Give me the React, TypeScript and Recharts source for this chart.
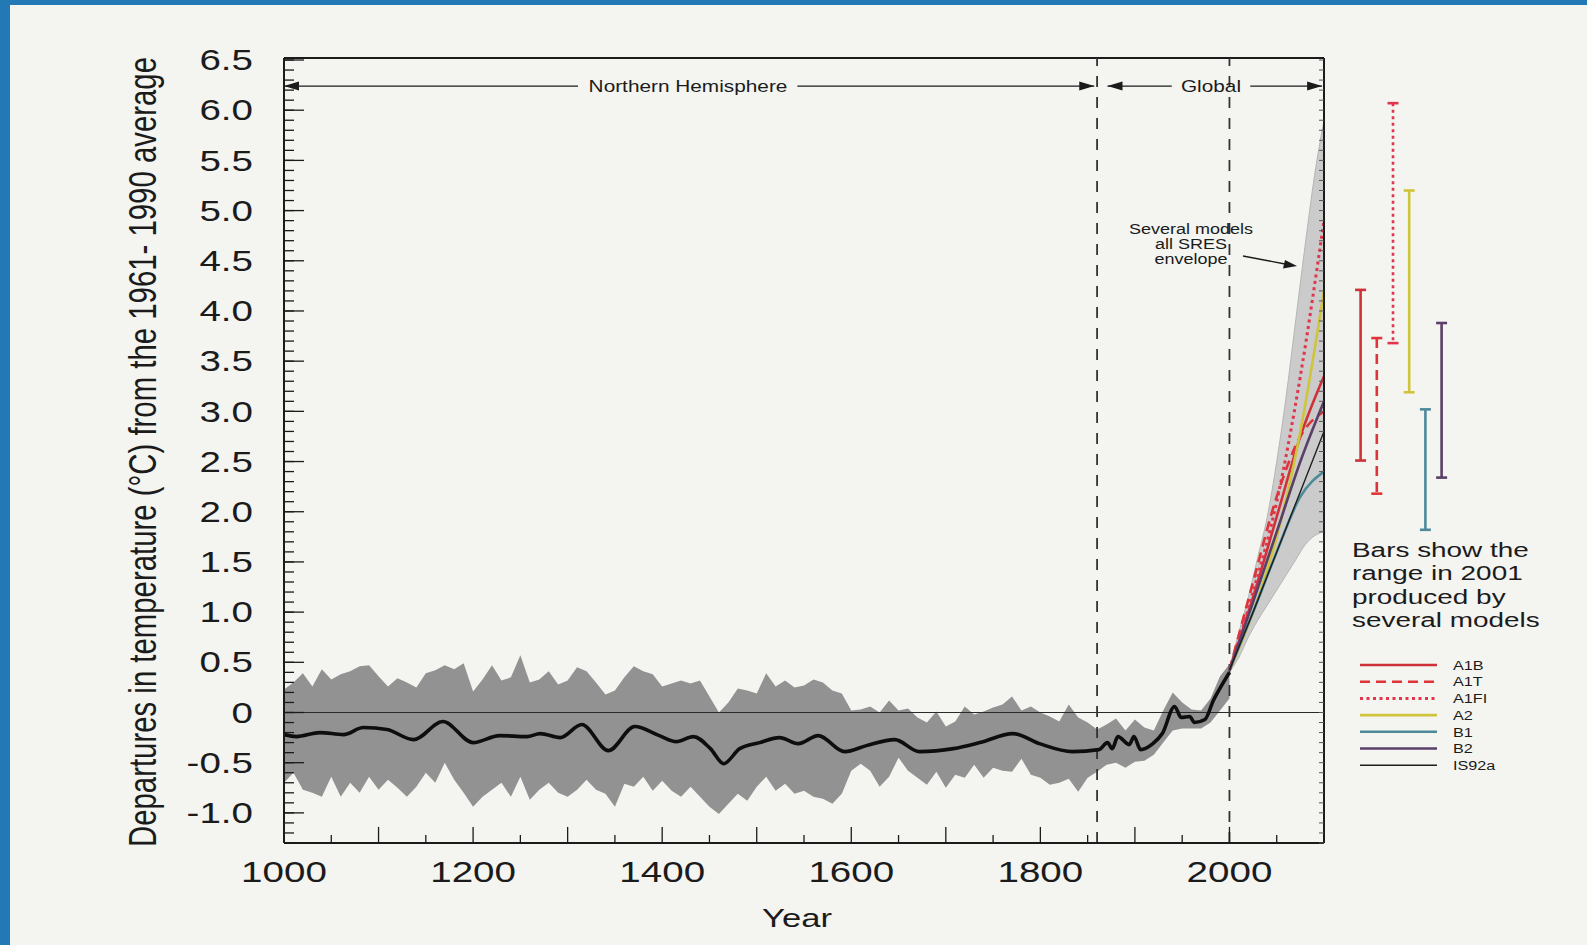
import React from 'react';
import {
  ComposedChart, BarChart, Bar, Area, Line, XAxis, YAxis, ReferenceLine,
} from 'recharts';

const FONT = '"Liberation Sans", Arial, Helvetica, sans-serif';
const INK = '#1b1b1b';
// the scanned figure is stretched sideways, so text is drawn wider than tall
const SX = 1.33;

// Northern Hemisphere reconstruction, smoothed (black line)
const NH_YEARS = [1000, 1013, 1038, 1063, 1084, 1109, 1137, 1168, 1200, 1228, 1257, 1271, 1292, 1315, 1343, 1371, 1397, 1415, 1433, 1451, 1465, 1482, 1503, 1524, 1544, 1565, 1593, 1616, 1646, 1672, 1708, 1736, 1771, 1799, 1834, 1862, 1871, 1876, 1882, 1894, 1899, 1906, 1919, 1929, 1942, 1949, 1958, 1963, 1974, 1983, 1993, 2000];
const NH_TEMPS = [-0.22, -0.24, -0.2, -0.22, -0.15, -0.17, -0.27, -0.09, -0.3, -0.23, -0.24, -0.21, -0.25, -0.12, -0.38, -0.14, -0.23, -0.29, -0.24, -0.36, -0.51, -0.36, -0.3, -0.25, -0.31, -0.23, -0.39, -0.33, -0.27, -0.39, -0.36, -0.3, -0.21, -0.31, -0.39, -0.37, -0.3, -0.36, -0.24, -0.32, -0.24, -0.37, -0.31, -0.21, 0.06, -0.05, -0.04, -0.1, -0.07, 0.12, 0.29, 0.4];

// annual spread (grey band), upper and lower edge per decade
const BAND_YEARS = [1000, 1010, 1020, 1030, 1040, 1050, 1060, 1070, 1080, 1090, 1100, 1110, 1120, 1130, 1140, 1150, 1160, 1170, 1180, 1190, 1200, 1210, 1220, 1230, 1240, 1250, 1260, 1270, 1280, 1290, 1300, 1310, 1320, 1330, 1340, 1350, 1360, 1370, 1380, 1390, 1400, 1410, 1420, 1430, 1440, 1450, 1460, 1470, 1480, 1490, 1500, 1510, 1520, 1530, 1540, 1550, 1560, 1570, 1580, 1590, 1600, 1610, 1620, 1630, 1640, 1650, 1660, 1670, 1680, 1690, 1700, 1710, 1720, 1730, 1740, 1750, 1760, 1770, 1780, 1790, 1800, 1810, 1820, 1830, 1840, 1850, 1860, 1870, 1880, 1890, 1900, 1910, 1920, 1930, 1940, 1950, 1960, 1970, 1980, 1990, 2000];
const BAND_HIGH = [0.23, 0.3, 0.39, 0.26, 0.43, 0.33, 0.38, 0.41, 0.46, 0.47, 0.36, 0.26, 0.34, 0.3, 0.25, 0.39, 0.42, 0.47, 0.43, 0.49, 0.21, 0.33, 0.47, 0.32, 0.35, 0.57, 0.3, 0.33, 0.41, 0.28, 0.32, 0.45, 0.41, 0.3, 0.18, 0.22, 0.35, 0.46, 0.41, 0.38, 0.26, 0.29, 0.32, 0.29, 0.32, 0.16, 0.0, 0.1, 0.24, 0.22, 0.19, 0.39, 0.26, 0.32, 0.25, 0.27, 0.33, 0.3, 0.22, 0.19, 0.02, 0.03, 0.06, 0.0, 0.12, 0.02, 0.04, -0.05, -0.1, 0.01, -0.14, -0.09, 0.06, -0.02, 0.01, 0.05, 0.08, 0.16, 0.02, 0.06, 0.0, -0.04, -0.09, 0.08, -0.05, -0.1, -0.17, -0.12, -0.06, -0.18, -0.07, -0.15, -0.18, 0.02, 0.2, 0.1, 0.03, 0.02, 0.14, 0.36, 0.48];
const BAND_LOW = [-0.7, -0.6, -0.77, -0.8, -0.84, -0.64, -0.84, -0.7, -0.8, -0.64, -0.77, -0.67, -0.75, -0.84, -0.74, -0.6, -0.7, -0.5, -0.67, -0.8, -0.94, -0.84, -0.77, -0.7, -0.84, -0.64, -0.87, -0.77, -0.7, -0.8, -0.84, -0.77, -0.67, -0.77, -0.81, -0.94, -0.71, -0.74, -0.64, -0.78, -0.68, -0.78, -0.84, -0.74, -0.84, -0.94, -1.01, -0.91, -0.81, -0.88, -0.74, -0.64, -0.78, -0.71, -0.81, -0.78, -0.84, -0.86, -0.91, -0.81, -0.58, -0.51, -0.58, -0.74, -0.64, -0.45, -0.58, -0.65, -0.72, -0.59, -0.75, -0.62, -0.65, -0.52, -0.65, -0.55, -0.58, -0.59, -0.46, -0.62, -0.65, -0.72, -0.7, -0.66, -0.79, -0.65, -0.59, -0.52, -0.5, -0.55, -0.49, -0.48, -0.42, -0.3, -0.18, -0.16, -0.16, -0.16, -0.1, 0.02, 0.14];

// envelope of all SRES projections
const ENV_YEARS = [2000, 2010, 2020, 2030, 2040, 2050, 2060, 2070, 2080, 2090, 2100];
const ENV_HIGH = [0.45, 0.8, 1.15, 1.55, 1.95, 2.5, 3.15, 3.9, 4.65, 5.35, 5.9];
const ENV_LOW = [0.4, 0.55, 0.75, 0.92, 1.07, 1.22, 1.37, 1.52, 1.67, 1.76, 1.8];

// scenario runs
const SCEN_YEARS = [2000, 2025, 2050, 2075, 2100];
const A1B = [0.42, 1.15, 1.95, 2.75, 3.35];
const A1T = [0.42, 1.3, 2.15, 2.75, 3.0];
const A1FI = [0.42, 1.2, 2.1, 3.35, 4.9];
const A2 = [0.42, 1.0, 1.75, 2.8, 4.2];
const B1 = [0.42, 1.0, 1.6, 2.15, 2.4];
const B2 = [0.42, 1.1, 1.8, 2.5, 3.1];
const IS92A = [0.42, 1.0, 1.6, 2.2, 2.8];
const SCENARIOS = ['A1B', 'A1T', 'A1FI', 'A2', 'B1', 'B2', 'IS92a'];
const SCEN_SERIES = [A1B, A1T, A1FI, A2, B1, B2, IS92A];

// range bars at the right
const BAR_NAMES = ['A1B', 'A1T', 'A1FI', 'A2', 'B1', 'B2'];
const BAR_LOW = [2.51, 2.18, 3.68, 3.19, 1.82, 2.34];
const BAR_HIGH = [4.21, 3.73, 6.07, 5.2, 3.02, 3.88];

const YEAR_LABELS = [1000, 1200, 1400, 1600, 1800, 2000];
const YEAR_MAJOR = [1100, 1200, 1300, 1400, 1500, 1600, 1700, 1800, 1900, 2000];
const YEAR_MINOR = [1050, 1150, 1250, 1350, 1450, 1550, 1650, 1750, 1850, 1950, 2050];
const TEMP_LABELS = [-1, -0.5, 0, 0.5, 1, 1.5, 2, 2.5, 3, 3.5, 4, 4.5, 5, 5.5, 6, 6.5];
const TEMP_MINOR = Array.from({ length: 79 }, (_, i) => Math.round((-1.3 + i * 0.1) * 10) / 10);

const STYLE: Record<string, { stroke: string; dash?: string; width: number }> = {
  A1B: { stroke: '#cf3139', width: 2.6 },
  A1T: { stroke: '#de3438', dash: '10 6', width: 2.6 },
  A1FI: { stroke: '#e0354a', dash: '3 3.5', width: 3 },
  A2: { stroke: '#cfc43c', width: 2.6 },
  B1: { stroke: '#4d8b9b', width: 2.6 },
  B2: { stroke: '#5a4068', width: 2.6 },
  IS92a: { stroke: '#1e1e1e', width: 1.4 },
};

const nhData = NH_YEARS.map((year, i) => ({ year, t: NH_TEMPS[i] }));
const bandData = BAND_YEARS.map((year, i) => ({ year, range: [BAND_LOW[i], BAND_HIGH[i]] }));
const envData = ENV_YEARS.map((year, i) => ({ year, range: [ENV_LOW[i], ENV_HIGH[i]] }));
const scenData = SCEN_YEARS.map((year, i) => {
  const row: Record<string, number> = { year };
  SCENARIOS.forEach((s, k) => { row[s] = SCEN_SERIES[k][i]; });
  return row;
});
const barData = BAR_NAMES.map((name, i) => ({ name, range: [BAR_LOW[i], BAR_HIGH[i]] }));

const X_DOMAIN: [number, number] = [1000, 2100];
const Y_DOMAIN: [number, number] = [-1.3, 6.52];
const ARROW_Y = 6.24;

const Wide = ({ x, y, size, anchor = 'start', dy = '0.35em', sx = SX, children }: any) => (
  <g transform={`translate(${x},${y}) scale(${sx},1)`}>
    <text x={0} y={0} dy={dy} textAnchor={anchor} fontSize={size} fontFamily={FONT} fill={INK}>
      {children}
    </text>
  </g>
);

const TempTick = (p: any) => {
  const v = p.payload.value;
  return <Wide x={p.x} y={p.y} size={29} anchor="end">{v === 0 ? '0' : v.toFixed(1)}</Wide>;
};

const YearTick = (p: any) => (
  <Wide x={p.x} y={p.y} size={29} anchor="middle" dy="0.71em">{p.payload.value}</Wide>
);

// tick marks only, no label
const NoLabel = () => <g />;

const head = (x: number, y: number, dir: number) => (
  <polygon points={`${x},${y} ${x - dir * 15},${y - 4.5} ${x - dir * 15},${y + 4.5}`} fill={INK} />
);

const arrowLine = (atStart: boolean, atEnd: boolean) => (p: any) => (
  <g>
    <line x1={p.x1} y1={p.y1} x2={p.x2} y2={p.y2} stroke={INK} strokeWidth={1.4} />
    {atStart && head(p.x1, p.y1, -1)}
    {atEnd && head(p.x2, p.y2, 1)}
  </g>
);

const RangeBar = (p: any) => {
  const st = STYLE[p.payload.name];
  const cx = p.x + p.width / 2;
  const top = Math.min(p.y, p.y + p.height);
  const bot = Math.max(p.y, p.y + p.height);
  return (
    <g stroke={st.stroke} strokeWidth={2.6}>
      <line x1={cx} x2={cx} y1={top} y2={bot} strokeDasharray={st.dash} />
      <line x1={cx - 5.5} x2={cx + 5.5} y1={top} y2={top} />
      <line x1={cx - 5.5} x2={cx + 5.5} y1={bot} y2={bot} />
    </g>
  );
};

const axisStroke = { stroke: INK, strokeWidth: 2 };
const tickStroke = { stroke: INK, strokeWidth: 1.3 };

export default function App() {
  const ax = { xAxisId: 'yr', yAxisId: 't' };
  const yBase = Y_DOMAIN[0];
  return (
    <div style={{ position: 'absolute', left: 0, top: 0, width: 1587, height: 945, background: '#2379b5', overflow: 'hidden' }}>
      <div style={{ position: 'absolute', left: 10, top: 5, width: 1577, height: 940, background: '#f4f4f1' }} />

      <div style={{ position: 'absolute', left: 0, top: 0 }}>
        <ComposedChart width={1587} height={945} margin={{ top: 58, right: 263, bottom: 42, left: 204 }}>
          <XAxis xAxisId="yr" type="number" dataKey="year" domain={X_DOMAIN} allowDataOverflow
            ticks={YEAR_LABELS} tickLine={false} tickSize={0} tickMargin={18} height={60}
            axisLine={axisStroke} tick={(p: any) => <YearTick {...p} />} />
          <YAxis yAxisId="t" domain={Y_DOMAIN} allowDataOverflow ticks={TEMP_LABELS} width={80}
            tickLine={false} tickSize={0} tickMargin={31} axisLine={axisStroke} interval={0}
            tick={(p: any) => <TempTick {...p} />} />
          <YAxis yAxisId="maj" domain={Y_DOMAIN} allowDataOverflow ticks={TEMP_LABELS} interval={0}
            mirror width={1} tick={NoLabel} tickSize={20} tickLine={tickStroke} axisLine={false} />
          <YAxis yAxisId="min" domain={Y_DOMAIN} allowDataOverflow ticks={TEMP_MINOR} interval={0}
            mirror width={1} tick={NoLabel} tickSize={9} tickLine={tickStroke} axisLine={false} />
          <YAxis yAxisId="r" orientation="right" domain={Y_DOMAIN} allowDataOverflow ticks={TEMP_MINOR}
            interval={0} mirror width={1} tick={NoLabel} tickSize={5}
            tickLine={{ stroke: '#555', strokeWidth: 1 }} axisLine={axisStroke} />

          <Area {...ax} data={bandData} dataKey="range" type="linear" fill="#929292" fillOpacity={1}
            stroke="none" isAnimationActive={false} legendType="none" />
          <Area {...ax} data={envData} dataKey="range" type="monotone" fill="#cbcbcb" fillOpacity={1}
            stroke="#b5b5b5" strokeWidth={1} isAnimationActive={false} legendType="none" />

          <ReferenceLine {...ax} y={Y_DOMAIN[1]} stroke={INK} strokeWidth={2} />
          <ReferenceLine {...ax} y={0} stroke="#2a2a2a" strokeWidth={1.2} />
          <ReferenceLine {...ax} x={1860} stroke="#333" strokeWidth={1.8} strokeDasharray="11 10" />
          <ReferenceLine {...ax} x={2000} stroke="#333" strokeWidth={1.8} strokeDasharray="11 10" />

          {YEAR_MAJOR.map((yr) => (
            <ReferenceLine key={`M${yr}`} {...ax} segment={[{ x: yr, y: yBase }, { x: yr, y: yBase + 0.16 }]}
              stroke={INK} strokeWidth={1.3} />
          ))}
          {YEAR_MINOR.map((yr) => (
            <ReferenceLine key={`m${yr}`} {...ax} segment={[{ x: yr, y: yBase }, { x: yr, y: yBase + 0.08 }]}
              stroke={INK} strokeWidth={1.3} />
          ))}

          <ReferenceLine {...ax} segment={[{ x: 1000, y: ARROW_Y }, { x: 1311, y: ARROW_Y }]} shape={arrowLine(true, false)} />
          <ReferenceLine {...ax} segment={[{ x: 1543, y: ARROW_Y }, { x: 1857, y: ARROW_Y }]} shape={arrowLine(false, true)} />
          <ReferenceLine {...ax} segment={[{ x: 1871, y: ARROW_Y }, { x: 1939, y: ARROW_Y }]} shape={arrowLine(true, false)} />
          <ReferenceLine {...ax} segment={[{ x: 2022, y: ARROW_Y }, { x: 2098, y: ARROW_Y }]} shape={arrowLine(false, true)} />

          {SCENARIOS.map((s) => (
            <Line key={s} {...ax} data={scenData} dataKey={s} type="monotone" dot={false} activeDot={false}
              stroke={STYLE[s].stroke} strokeWidth={STYLE[s].width} strokeDasharray={STYLE[s].dash}
              isAnimationActive={false} />
          ))}
          <Line {...ax} data={nhData} dataKey="t" type="monotone" dot={false} activeDot={false}
            stroke="#0e0e0e" strokeWidth={3.6} isAnimationActive={false} legendType="none" />
        </ComposedChart>
      </div>

      <div style={{ position: 'absolute', left: 1340, top: 0 }}>
        <BarChart width={120} height={945} data={barData} barCategoryGap={0}
          margin={{ top: 58, right: 10.2, bottom: 102, left: 12.6 }}>
          <XAxis dataKey="name" hide />
          <YAxis domain={Y_DOMAIN} allowDataOverflow hide />
          <Bar dataKey="range" shape={(p: any) => <RangeBar {...p} />} isAnimationActive={false} />
        </BarChart>
      </div>

      <svg width={1587} height={945} style={{ position: 'absolute', left: 0, top: 0, pointerEvents: 'none' }}>
        <g transform="translate(142,452) rotate(-90) scale(1,1.33)">
          <text x={0} y={0} dy="0.35em" textAnchor="middle" fontSize={29} fontFamily={FONT} fill={INK}
            textLength={790} lengthAdjust="spacingAndGlyphs">
            Departures in temperature (°C) from the 1961- 1990 average
          </text>
        </g>
        <Wide x={797} y={918} size={26} anchor="middle">Year</Wide>

        <Wide x={688} y={86} size={16} sx={1.3} anchor="middle">Northern Hemisphere</Wide>
        <Wide x={1211} y={86} size={16} sx={1.3} anchor="middle">Global</Wide>

        <Wide x={1191} y={229} size={15} sx={1.2} anchor="middle">Several models</Wide>
        <Wide x={1191} y={244} size={15} sx={1.2} anchor="middle">all SRES</Wide>
        <Wide x={1191} y={259} size={15} sx={1.2} anchor="middle">envelope</Wide>
        <line x1={1243} y1={256} x2={1285} y2={264} stroke={INK} strokeWidth={1.3} />
        <polygon points="1297,266 1283,268.5 1285,260" fill={INK} />

        <Wide x={1352} y={550} size={21}>Bars show the</Wide>
        <Wide x={1352} y={573} size={21}>range in 2001</Wide>
        <Wide x={1352} y={597} size={21}>produced by</Wide>
        <Wide x={1352} y={620} size={21}>several models</Wide>

        {SCENARIOS.map((s, i) => {
          const y = 665 + i * 16.7;
          return (
            <g key={s}>
              <line x1={1360} x2={1437} y1={y} y2={y} stroke={STYLE[s].stroke}
                strokeWidth={STYLE[s].width} strokeDasharray={STYLE[s].dash} />
              <Wide x={1453} y={y} size={13.5} sx={1.2}>{s}</Wide>
            </g>
          );
        })}
      </svg>
    </div>
  );
}
